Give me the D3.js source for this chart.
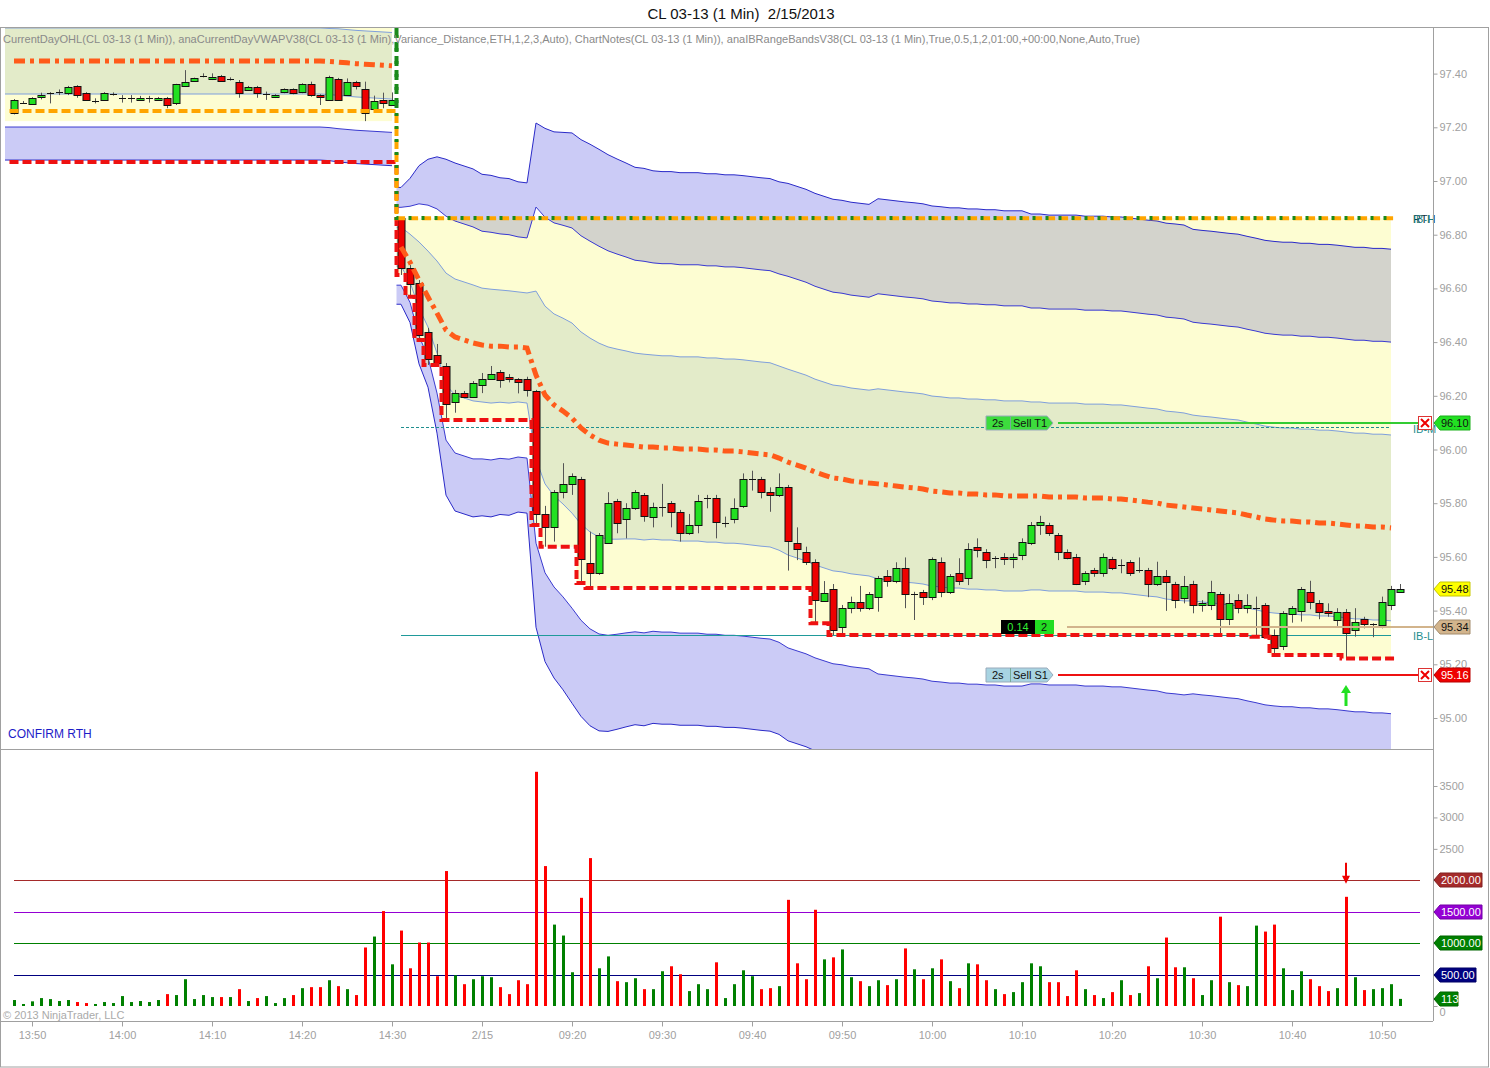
<!DOCTYPE html>
<html><head><meta charset="utf-8">
<script src="https://cdn.jsdelivr.net/npm/d3@7/dist/d3.min.js"></script>
<style>
html,body{margin:0;padding:0;background:#fff;}
svg{display:block;font-family:"Liberation Sans",Arial,Helvetica,sans-serif;}
</style></head><body>
<svg id="chart" width="1490" height="1068"></svg>
<script>
// ---------------- DATA ----------------
function minuteLabels(h0, m0, n) {
  const a = [];
  for (let k = 0; k < n; k++) { const t = h0 * 60 + m0 + k; a.push(String(Math.floor(t / 60)).padStart(2, "0") + ":" + String(t % 60).padStart(2, "0")); }
  return a;
}
const categories = minuteLabels(13, 48, 43).concat(minuteLabels(9, 1, 112));
const rthStart = 43;

const openP = [97.252,97.292,97.289,97.312,97.329,97.333,97.329,97.354,97.329,97.299,
97.302,97.323,97.310,97.310,97.302,97.310,97.302,97.310,97.289,97.354,
97.372,97.392,97.381,97.391,97.381,97.370,97.341,97.351,97.323,97.312,
97.330,97.341,97.330,97.360,97.320,97.302,97.381,97.320,97.370,97.341,
97.271,97.302,97.283,
96.861,96.677,96.619,96.439,96.352,96.311,96.178,96.212,96.197,96.239,
96.261,96.290,96.269,96.261,96.261,96.219,95.760,95.710,95.841,95.870,
95.889,95.578,95.539,95.651,95.809,95.740,95.781,95.829,95.750,95.787,
95.800,95.768,95.688,95.718,95.818,95.818,95.727,95.740,95.787,95.889,
95.889,95.841,95.829,95.859,95.651,95.619,95.580,95.439,95.479,95.340,
95.409,95.431,95.409,95.450,95.529,95.510,95.558,95.461,95.468,95.450,
95.580,95.468,95.539,95.520,95.638,95.619,95.595,95.598,95.591,95.610,
95.651,95.719,95.719,95.682,95.619,95.598,95.508,95.551,95.539,95.591,
95.570,95.580,95.551,95.551,95.499,95.529,95.499,95.448,95.499,95.421,
95.421,95.461,95.368,95.439,95.409,95.409,95.421,95.309,95.268,95.387,
95.396,95.468,95.429,95.399,95.368,95.396,95.330,95.368,95.350,95.346,
95.421,95.468];
const closeP = [97.302,97.292,97.310,97.320,97.329,97.333,97.351,97.320,97.302,97.299,
97.329,97.323,97.310,97.310,97.310,97.310,97.310,97.283,97.360,97.370,
97.382,97.392,97.389,97.372,97.381,97.329,97.351,97.329,97.323,97.320,
97.341,97.326,97.360,97.320,97.312,97.389,97.302,97.370,97.354,97.252,
97.299,97.289,97.302,
96.675,96.619,96.426,96.340,96.321,96.169,96.212,96.197,96.249,96.261,
96.281,96.261,96.261,96.250,96.219,95.760,95.710,95.841,95.870,95.901,
95.591,95.539,95.682,95.800,95.727,95.781,95.841,95.750,95.787,95.787,
95.768,95.688,95.718,95.809,95.818,95.729,95.727,95.781,95.889,95.889,
95.841,95.829,95.859,95.657,95.628,95.580,95.439,95.467,95.328,95.409,
95.431,95.409,95.461,95.520,95.510,95.558,95.461,95.461,95.450,95.591,
95.468,95.529,95.510,95.628,95.628,95.591,95.595,95.591,95.598,95.657,
95.719,95.729,95.688,95.619,95.598,95.499,95.539,95.539,95.598,95.558,
95.570,95.539,95.551,95.499,95.529,95.508,95.439,95.492,95.421,95.429,
95.468,95.368,95.429,95.409,95.421,95.409,95.303,95.260,95.390,95.409,
95.479,95.429,95.396,95.390,95.396,95.318,95.359,95.350,95.350,95.431,
95.479,95.479];
const highP = [97.305,97.298,97.312,97.329,97.331,97.341,97.354,97.357,97.331,97.308,
97.331,97.330,97.320,97.320,97.317,97.317,97.313,97.313,97.362,97.413,
97.385,97.401,97.401,97.395,97.386,97.376,97.354,97.354,97.333,97.323,
97.345,97.345,97.364,97.370,97.323,97.392,97.384,97.382,97.373,97.370,
97.318,97.329,97.330,
96.862,96.687,96.631,96.453,96.393,96.322,96.222,96.218,96.255,96.285,
96.311,96.296,96.281,96.266,96.271,96.222,95.790,95.849,95.949,95.911,
95.898,95.694,95.689,95.841,95.816,95.800,95.849,95.838,95.802,95.872,
95.808,95.775,95.760,95.831,95.831,95.831,95.750,95.818,95.911,95.921,
95.898,95.859,95.911,95.868,95.710,95.638,95.591,95.510,95.499,95.421,
95.452,95.492,95.469,95.529,95.551,95.580,95.598,95.470,95.477,95.598,
95.598,95.536,95.595,95.651,95.669,95.629,95.603,95.614,95.613,95.669,
95.730,95.753,95.727,95.689,95.628,95.611,95.547,95.559,95.613,95.600,
95.591,95.588,95.598,95.559,95.582,95.551,95.507,95.529,95.511,95.439,
95.511,95.469,95.462,95.461,95.461,95.452,95.428,95.330,95.398,95.417,
95.488,95.511,95.439,95.427,95.409,95.406,95.409,95.377,95.353,95.452,
95.492,95.499];
const lowP = [97.248,97.287,97.287,97.304,97.289,97.320,97.320,97.310,97.299,97.289,
97.299,97.318,97.292,97.292,97.299,97.292,97.299,97.271,97.283,97.350,
97.370,97.386,97.376,97.369,97.374,97.310,97.339,97.310,97.302,97.309,
97.327,97.323,97.327,97.314,97.283,97.299,97.299,97.317,97.341,97.223,
97.258,97.271,97.280,
96.650,96.569,96.408,96.315,96.320,96.110,96.137,96.191,96.192,96.210,
96.259,96.230,96.250,96.209,96.197,95.719,95.638,95.657,95.818,95.831,
95.503,95.484,95.533,95.653,95.688,95.669,95.775,95.731,95.710,95.750,
95.710,95.657,95.682,95.688,95.781,95.669,95.710,95.725,95.782,95.847,
95.818,95.768,95.823,95.549,95.588,95.570,95.353,95.433,95.309,95.309,
95.390,95.396,95.402,95.396,95.489,95.502,95.409,95.365,95.421,95.439,
95.450,95.462,95.495,95.495,95.598,95.558,95.558,95.570,95.558,95.588,
95.644,95.682,95.678,95.588,95.591,95.495,95.495,95.526,95.526,95.551,
95.539,95.529,95.541,95.450,95.492,95.399,95.409,95.427,95.390,95.396,
95.402,95.309,95.346,95.390,95.390,95.303,95.303,95.235,95.253,95.355,
95.359,95.405,95.368,95.377,95.343,95.222,95.303,95.334,95.301,95.334,
95.402,95.468];
const volume = [95,32,74,126,110,79,95,63,47,32,
63,47,158,63,79,63,95,189,174,426,
110,174,142,142,142,268,79,126,158,47,
126,174,284,300,300,410,316,268,174,931,
1105,1510,663,1200,600,1010,1010,474,2147,489,
347,426,474,458,300,189,410,347,3726,2226,
1295,1121,537,1721,2353,600,789,395,379,442,
268,268,553,632,505,237,347,
268,695,126,347,568,474,268,284,316,1689,
679,426,1531,742,774,900,458,395,316,410,
332,426,916,584,426,600,742,395,284,679,
663,410,268,189,221,379,679,632,379,379,
158,568,268,174,126,221,410,174,205,632,
442,1089,616,616,442,174,410,1421,379,332,
316,1279,1184,1295,600,253,553,426,316,237,
284,1737,458,253,268,284,347,113];

// session VWAP and deviations (price units); last bar not yet computed
const vwap = [97.447,97.447,97.447,97.447,97.447,97.447,97.447,97.447,97.447,97.447,
97.447,97.447,97.447,97.447,97.447,97.447,97.447,97.447,97.447,97.447,
97.447,97.447,97.447,97.447,97.447,97.447,97.447,97.447,97.447,97.447,
97.447,97.447,97.447,97.447,97.447,97.445,97.443,97.440,97.437,97.435,
97.433,97.431,97.429,
96.754,96.698,96.631,96.568,96.508,96.445,96.419,96.408,96.397,96.389,
96.385,96.385,96.382,96.382,96.378,96.277,96.203,96.166,96.143,96.117,
96.080,96.054,96.035,96.024,96.020,96.017,96.013,96.009,96.009,96.006,
96.006,96.002,96.002,96.002,95.998,95.998,95.994,95.994,95.991,95.987,
95.983,95.980,95.968,95.953,95.942,95.931,95.916,95.905,95.894,95.890,
95.883,95.879,95.875,95.872,95.868,95.864,95.860,95.857,95.853,95.845,
95.842,95.838,95.838,95.834,95.834,95.831,95.831,95.827,95.827,95.827,
95.827,95.827,95.823,95.823,95.823,95.823,95.819,95.819,95.819,95.816,
95.816,95.812,95.808,95.804,95.801,95.793,95.790,95.786,95.782,95.778,
95.775,95.771,95.767,95.764,95.756,95.749,95.741,95.737,95.734,95.734,
95.730,95.730,95.726,95.726,95.723,95.719,95.715,95.715,95.711,95.711,
95.708,null];
const sigmaUp = [0.123,0.123,0.123,0.123,0.123,0.123,0.123,0.123,0.123,0.123,
0.123,0.123,0.123,0.123,0.123,0.123,0.123,0.123,0.123,0.123,
0.123,0.123,0.123,0.123,0.123,0.123,0.123,0.123,0.123,0.123,
0.123,0.123,0.123,0.123,0.123,0.123,0.124,0.124,0.124,0.124,
0.124,0.124,0.124,
0.074,0.104,0.142,0.171,0.194,0.212,0.216,0.216,0.216,0.212,
0.212,0.209,0.209,0.205,0.205,0.313,0.331,0.339,0.346,0.354,
0.358,0.361,0.361,0.358,0.354,0.350,0.346,0.346,0.343,0.343,
0.343,0.343,0.343,0.343,0.343,0.343,0.343,0.343,0.343,0.343,
0.343,0.343,0.343,0.346,0.346,0.346,0.346,0.346,0.346,0.346,
0.346,0.346,0.346,0.354,0.354,0.354,0.354,0.354,0.354,0.354,
0.354,0.354,0.354,0.354,0.354,0.354,0.354,0.354,0.354,0.354,
0.350,0.350,0.350,0.350,0.350,0.350,0.350,0.350,0.350,0.350,
0.350,0.350,0.350,0.350,0.350,0.350,0.350,0.350,0.346,0.346,
0.346,0.346,0.346,0.346,0.346,0.346,0.346,0.346,0.346,0.346,
0.346,0.346,0.346,0.346,0.346,0.346,0.346,0.346,0.346,0.346,
0.346,null];
const sigmaDn = [0.123,0.123,0.123,0.123,0.123,0.123,0.123,0.123,0.123,0.123,
0.123,0.123,0.123,0.123,0.123,0.123,0.123,0.123,0.123,0.123,
0.123,0.123,0.123,0.123,0.123,0.123,0.123,0.123,0.123,0.123,
0.123,0.123,0.123,0.123,0.123,0.123,0.124,0.124,0.124,0.124,
0.124,0.124,0.124,
0.071,0.075,0.104,0.112,0.149,0.205,0.216,0.216,0.216,0.212,
0.212,0.209,0.209,0.205,0.205,0.313,0.331,0.339,0.346,0.354,
0.358,0.361,0.361,0.358,0.354,0.350,0.346,0.346,0.343,0.343,
0.343,0.343,0.343,0.343,0.343,0.343,0.343,0.343,0.343,0.343,
0.343,0.343,0.343,0.346,0.346,0.346,0.346,0.346,0.346,0.346,
0.346,0.346,0.346,0.354,0.354,0.354,0.354,0.354,0.354,0.354,
0.354,0.354,0.354,0.354,0.354,0.354,0.354,0.354,0.354,0.354,
0.350,0.350,0.350,0.350,0.350,0.350,0.350,0.350,0.350,0.350,
0.350,0.350,0.350,0.350,0.350,0.350,0.350,0.350,0.346,0.346,
0.346,0.346,0.346,0.346,0.346,0.346,0.346,0.346,0.346,0.346,
0.346,0.346,0.346,0.346,0.346,0.346,0.346,0.346,0.346,0.346,
0.346,null];

const ethOpen = 97.261, ethLow = 97.071, ethHigh = 97.70, ethIBLow = 97.223;
const ibHigh = 96.861, ibLow = 95.309, ibMid = 96.085;
const priceTicks = [95.00,95.20,95.40,95.60,95.80,96.00,96.20,96.40,96.60,96.80,97.00,97.20,97.40];
const volTicks = [0,2500,3000,3500];
const volLevels = [2000,1500,1000,500];
const volLevelColors = ["#a52a2a","#9400d3","#008000","#000080"];
const timeTickCats = ["13:50","14:00","14:10","14:20","14:30","09:10","09:20","09:30","09:40","09:50","10:00","10:10","10:20","10:30","10:40","10:50"];
const timeTickLabels = ["13:50","14:00","14:10","14:20","14:30","2/15","09:20","09:30","09:40","09:50","10:00","10:10","10:20","10:30","10:40","10:50"];
const targetPrice = 96.10, stopPrice = 95.16, entryPrice = 95.34, lastPrice = 95.48;
const signalArrowPrice = 95.123, volArrowTop = 2277, volArrowTip = 1943;

// ---------------- LAYOUT ----------------
const L = 1, R = 1433, PT = 28, PB = 749, VT = 751, VB = 1021, FB = 1067;
const svg = d3.select("#chart");
const x = d3.scalePoint().domain(categories).range([14, 1400]);
const step = x.step();
const X = i => x(categories[i]);
const y = d3.scaleLinear().domain([95, 97.4]).range([718, 73.6]);
const yv = d3.scaleLinear().domain([0, 3500]).range([1006, 786]);

const defs = svg.append("defs");
defs.append("clipPath").attr("id", "cp").append("rect").attr("x", L).attr("y", PT).attr("width", R - L).attr("height", PB - PT);
defs.append("clipPath").attr("id", "cv").append("rect").attr("x", L).attr("y", VT).attr("width", R - L).attr("height", VB - VT);

svg.append("text").attr("x", 741).attr("y", 19).attr("text-anchor", "middle").attr("font-size", 15).attr("fill", "#111")
  .style("white-space", "pre").text("CL 03-13 (1 Min)  2/15/2013");

const P = svg.append("g").attr("clip-path", "url(#cp)");
const pre = d3.range(0, rthStart), rth = d3.range(rthStart, 154);
const lineIdx = d3.range(0, 154);

// running day open / high / low
let rmin = Infinity, rmax = -Infinity;
const dayLow = [], dayHigh = [], dayOpen = [];
lineIdx.forEach(i => {
  if (i < rthStart) { dayLow.push(ethLow); dayHigh.push(ethHigh); dayOpen.push(ethOpen); }
  else { rmin = Math.min(rmin, lowP[i]); rmax = Math.max(rmax, highP[i]); dayLow.push(rmin); dayHigh.push(rmax); dayOpen.push(openP[rthStart]); }
});

// IB range fills (developing range)
P.append("rect").attr("x", X(0) - step).attr("y", PT).attr("width", X(rthStart - 1) - X(0) + step).attr("height", y(ethIBLow) - PT).attr("fill", "#fdfdd2");
const ibPts = rth.map(i => ({ x: X(i) - step / 2, lo: dayLow[i] }));
ibPts.push({ x: X(153), lo: dayLow[153] });
const ibArea = d3.area().curve(d3.curveStepAfter).x(d => d.x).y0(d => y(d.lo)).y1(() => y(ibHigh))(ibPts);
P.append("path").attr("d", ibArea).attr("fill", "#fdfdd2");
defs.append("clipPath").attr("id", "cib").append("path").attr("d", ibArea);

function bandPts(idxs, ext) {
  const pts = idxs.map(i => ({ x: X(i), v: vwap[i], su: sigmaUp[i], sd: sigmaDn[i] }));
  pts.unshift({ x: X(idxs[0]) - ext, v: vwap[idxs[0]], su: sigmaUp[idxs[0]], sd: sigmaDn[idxs[0]] });
  return pts;
}
const lvl = (d, k) => y(d.v + k * (k >= 0 ? d.su : d.sd));
const sessions = [{ idx: pre, ext: step }, { idx: rth, ext: step / 2 }];
sessions.forEach(s => {
  const pts = bandPts(s.idx, s.ext);
  const area = (k1, k2) => d3.area().x(d => d.x).y0(d => lvl(d, k1)).y1(d => lvl(d, k2))(pts);
  P.append("path").attr("d", area(-1, 1)).attr("fill", "#e3ebc9");
  P.append("path").attr("d", area(2, 3)).attr("fill", "#cbcbf6");
  P.append("path").attr("d", area(-2, -3)).attr("fill", "#cbcbf6");
  s.pts = pts; s.area = area;
});
// lavender overlapping the IB range looks grey
const G = P.append("g").attr("clip-path", "url(#cib)");
G.append("path").attr("d", sessions[1].area(2, 3)).attr("fill", "#d3d3cc");
G.append("path").attr("d", sessions[1].area(-2, -3)).attr("fill", "#d3d3cc");
sessions.forEach(s => {
  [[3, "#2a2ac8"], [2, "#3a3ad0"], [1, "#7f9fdc"], [-1, "#7f9fdc"], [-2, "#3a3ad0"], [-3, "#2a2ac8"]].forEach(([k, c]) => {
    P.append("path").attr("d", d3.line().x(d => d.x).y(d => lvl(d, k))(s.pts)).attr("fill", "none").attr("stroke", c).attr("stroke-width", 1);
  });
});

// IB mid / low lines
P.append("line").attr("x1", X(rthStart)).attr("x2", X(153)).attr("y1", Math.round(y(ibMid)) + 0.5).attr("y2", Math.round(y(ibMid)) + 0.5).attr("stroke", "#1f8f8f").attr("stroke-dasharray", "3,2");
P.append("line").attr("x1", X(rthStart)).attr("x2", X(153)).attr("y1", Math.round(y(ibLow)) + 0.5).attr("y2", Math.round(y(ibLow)) + 0.5).attr("stroke", "#1f9a9a");

// candles
const idxAll = d3.range(categories.length);
P.selectAll(".wick").data(idxAll).join("line").attr("x1", i => X(i) + 0.5).attr("x2", i => X(i) + 0.5)
  .attr("y1", i => y(highP[i])).attr("y2", i => y(lowP[i])).attr("stroke", "#555").attr("stroke-width", 1);
P.selectAll(".body").data(idxAll.filter(i => openP[i] !== closeP[i])).join("rect")
  .attr("x", i => X(i) - 3).attr("width", 7)
  .attr("y", i => Math.round(y(Math.max(openP[i], closeP[i]))) + 0.5)
  .attr("height", i => Math.max(1, Math.round(Math.abs(y(openP[i]) - y(closeP[i])))))
  .attr("fill", i => closeP[i] > openP[i] ? "#22e022" : "#ee0000").attr("stroke", "#111").attr("stroke-width", 1);
P.selectAll(".doji").data(idxAll.filter(i => openP[i] === closeP[i])).join("line")
  .attr("x1", i => X(i) - 3).attr("x2", i => X(i) + 4).attr("y1", i => Math.round(y(openP[i])) + 0.5).attr("y2", i => Math.round(y(openP[i])) + 0.5)
  .attr("stroke", "#111").attr("stroke-width", 1);

// VWAP dash-dot
[pre, rth].forEach(idxs => {
  P.append("path").attr("d", d3.line().x(i => X(i)).y(i => y(vwap[i]))(idxs)).attr("fill", "none")
    .attr("stroke", "#ff5b1a").attr("stroke-width", 5).attr("stroke-dasharray", "11,5,4,5");
});

function stepLine(vals) {
  const pts = lineIdx.map(i => [X(i) - step / 2, y(vals[i])]);
  pts.push([X(153) + step / 2, y(vals[153])]);
  return d3.line().curve(d3.curveStepAfter)(pts);
}
P.append("path").attr("d", stepLine(dayLow)).attr("fill", "none").attr("stroke", "#ee1111").attr("stroke-width", 4).attr("stroke-dasharray", "9,4");
P.append("path").attr("d", stepLine(dayOpen)).attr("fill", "none").attr("stroke", "#ffa500").attr("stroke-width", 4).attr("stroke-dasharray", "9,4");
P.append("path").attr("d", stepLine(dayHigh)).attr("fill", "none").attr("stroke", "#1a8a1a").attr("stroke-width", 4).attr("stroke-dasharray", "3,10");
P.append("line").attr("x1", X(rthStart) - step / 2).attr("x2", X(rthStart) - step / 2).attr("y1", PT).attr("y2", y(ethOpen) - 2)
  .attr("stroke", "#1a8a1a").attr("stroke-width", 4).attr("stroke-dasharray", "10,4");

// order lines
const tY = Math.round(y(targetPrice)), sY = Math.round(y(stopPrice)), eY = Math.round(y(entryPrice));
P.append("line").attr("x1", X(117)).attr("x2", R).attr("y1", eY).attr("y2", eY).attr("stroke", "#d2b48c").attr("stroke-width", 2);
P.append("line").attr("x1", X(116)).attr("x2", 1420).attr("y1", tY).attr("y2", tY).attr("stroke", "#33cc33").attr("stroke-width", 2);
P.append("line").attr("x1", X(116)).attr("x2", 1420).attr("y1", sY).attr("y2", sY).attr("stroke", "#ee1111").attr("stroke-width", 2);

function orderLabel(yy, bg, txt2) {
  const x0 = X(108), xd = x0 + 24, x1 = x0 + 61;
  const g = P.append("g");
  g.append("path").attr("d", `M${x0},${yy - 7}L${x1},${yy - 7}L${x1 + 6},${yy}L${x1},${yy + 7}L${x0},${yy + 7}Z`).attr("fill", bg).attr("stroke", "#9ab");
  g.append("line").attr("x1", xd + 0.5).attr("x2", xd + 0.5).attr("y1", yy - 7).attr("y2", yy + 7).attr("stroke", "#7a9");
  g.append("text").attr("x", x0 + 6).attr("y", yy + 4).attr("font-size", 11).attr("fill", "#111").text("2s");
  g.append("text").attr("x", xd + 3).attr("y", yy + 4).attr("font-size", 11).attr("fill", "#111").text(txt2);
}
orderLabel(tY, "#3ddc3d", "Sell T1");
orderLabel(sY, "#a8d4e2", "Sell S1");
const px0 = X(110) - 3;
P.append("rect").attr("x", px0).attr("y", eY - 7).attr("width", 34).attr("height", 14).attr("fill", "#000");
P.append("text").attr("x", px0 + 17).attr("y", eY + 4).attr("text-anchor", "middle").attr("font-size", 11).attr("fill", "#33ee33").text("0.14");
P.append("rect").attr("x", px0 + 34).attr("y", eY - 7).attr("width", 19).attr("height", 14).attr("fill", "#22dd22");
P.append("text").attr("x", px0 + 43).attr("y", eY + 4).attr("text-anchor", "middle").attr("font-size", 11).attr("fill", "#111").text("2");

// right labels
const lbl = (yy, t, c) => svg.append("text").attr("x", 1413).attr("y", yy).attr("font-size", 11).attr("fill", c).text(t);
lbl(y(ibHigh) + 5, "RTH", "#134");
lbl(y(ibHigh) + 5, "IB-H", "#1f7f7f");
lbl(y(ibMid) + 6, "IB-M", "#1f8f8f");
lbl(y(ibLow) + 5, "IB-L", "#1f8f8f");
function xBox(yy) {
  const g = svg.append("g");
  g.append("rect").attr("x", 1418.5).attr("y", yy - 6.5).attr("width", 13).attr("height", 13).attr("fill", "#fff").attr("stroke", "#d33");
  g.append("path").attr("d", `M1421,${yy - 4}L1429,${yy + 4}M1429,${yy - 4}L1421,${yy + 4}`).attr("stroke", "#e00").attr("stroke-width", 2);
}
xBox(tY); xBox(sY);

const ax = X(148), ay = y(signalArrowPrice);
P.append("path").attr("d", `M${ax},${ay}L${ax + 5},${ay + 8}L${ax + 1.5},${ay + 8}L${ax + 1.5},${ay + 21}L${ax - 1.5},${ay + 21}L${ax - 1.5},${ay + 8}L${ax - 5},${ay + 8}Z`).attr("fill", "#22e022");

svg.append("text").attr("x", 8).attr("y", 738).attr("font-size", 12).attr("fill", "#1c1cc8").text("CONFIRM RTH");

svg.append("text").attr("x", 3).attr("y", 43).attr("font-size", 11).attr("fill", "#8a8a8a")
  .attr("textLength", 1137).attr("lengthAdjust", "spacingAndGlyphs")
  .text("CurrentDayOHL(CL 03-13 (1 Min)), anaCurrentDayVWAPV38(CL 03-13 (1 Min),Variance_Distance,ETH,1,2,3,Auto), ChartNotes(CL 03-13 (1 Min)), anaIBRangeBandsV38(CL 03-13 (1 Min),True,0.5,1,2,01:00,+00:00,None,Auto,True)");

// ---------------- VOLUME ----------------
const V = svg.append("g").attr("clip-path", "url(#cv)");
volLevels.forEach((lv, k) => {
  V.append("line").attr("x1", X(0)).attr("x2", 1420).attr("y1", Math.round(yv(lv)) + 0.5).attr("y2", Math.round(yv(lv)) + 0.5).attr("stroke", volLevelColors[k]).attr("stroke-width", 1);
});
V.selectAll(".vb").data(idxAll).join("rect").attr("x", i => X(i) - 1).attr("width", 3)
  .attr("y", i => yv(volume[i])).attr("height", i => yv(0) - yv(volume[i]))
  .attr("fill", i => closeP[i] >= openP[i] ? "#008000" : "#ff0000");
const vax = X(148), vt = yv(volArrowTop), vtip = yv(volArrowTip);
V.append("path").attr("d", `M${vax - 1},${vt}L${vax + 1},${vt}L${vax + 1},${vtip - 8}L${vax + 4},${vtip - 8}L${vax},${vtip}L${vax - 4},${vtip - 8}L${vax - 1},${vtip - 8}Z`).attr("fill", "#e00");

svg.append("text").attr("x", 3).attr("y", 1019).attr("font-size", 11).attr("fill", "#aaa").text("© 2013 NinjaTrader, LLC");

// ---------------- AXES / FRAME ----------------
const frame = svg.append("g").attr("stroke", "#a0a0a0").attr("fill", "none");
frame.append("rect").attr("x", 0.5).attr("y", PT - 0.5).attr("width", 1488).attr("height", FB - PT + 0.5);
frame.append("line").attr("x1", 0).attr("x2", R).attr("y1", PB + 0.5).attr("y2", PB + 0.5);
frame.append("line").attr("x1", 0).attr("x2", R).attr("y1", VB + 0.5).attr("y2", VB + 0.5);
frame.append("line").attr("x1", R + 0.5).attr("x2", R + 0.5).attr("y1", PT).attr("y2", VB);

function styleAxis(g) {
  g.select(".domain").remove();
  g.selectAll("line").attr("stroke", "#a0a0a0");
  g.selectAll("text").attr("fill", "#a0a0a0").attr("font-size", 11).attr("font-family", "Liberation Sans, Arial");
}
svg.append("g").attr("transform", `translate(${R + 0.5},0)`)
  .call(d3.axisRight(y).tickValues(priceTicks).tickFormat(d3.format(".2f")).tickSize(4).tickPadding(2)).call(styleAxis);
const va = svg.append("g").attr("transform", `translate(${R + 0.5},0)`)
  .call(d3.axisRight(yv).tickValues(volTicks).tickFormat(d3.format("d")).tickSize(4).tickPadding(2)).call(styleAxis);
va.selectAll(".tick").filter(d => d === 0).select("text").attr("dy", "0.9em");
svg.append("g").attr("transform", `translate(0,${VB + 0.5})`)
  .call(d3.axisBottom(x).tickValues(timeTickCats).tickFormat((d, k) => timeTickLabels[k]).tickSize(5).tickPadding(5)).call(styleAxis);

function tag(yy, txt, bg, fg, w) {
  const g = svg.append("g");
  g.append("path").attr("d", `M${R + 1},${yy}L${R + 7},${yy - 7}L${R + 7 + w},${yy - 7}L${R + 7 + w},${yy + 7}L${R + 7},${yy + 7}Z`)
    .attr("fill", bg).attr("stroke", d3.color(bg).darker(0.7)).attr("stroke-width", 1);
  g.append("text").attr("x", R + 8).attr("y", yy + 4).attr("font-size", 11).attr("fill", fg).text(txt);
}
tag(tY, d3.format(".2f")(targetPrice), "#22e022", "#111", 30);
tag(Math.round(y(lastPrice)), d3.format(".2f")(lastPrice), "#ffff00", "#111", 30);
tag(eY, d3.format(".2f")(entryPrice), "#d2b48c", "#111", 30);
tag(sY, d3.format(".2f")(stopPrice), "#ee0000", "#fff", 30);
volLevels.forEach((lv, k) => tag(Math.round(yv(lv)), d3.format(".2f")(lv), volLevelColors[k], "#fff", lv >= 1000 ? 42 : 36));
tag(Math.round(yv(volume[154])), String(volume[154]), "#008000", "#fff", 18);
</script>
</body></html>
